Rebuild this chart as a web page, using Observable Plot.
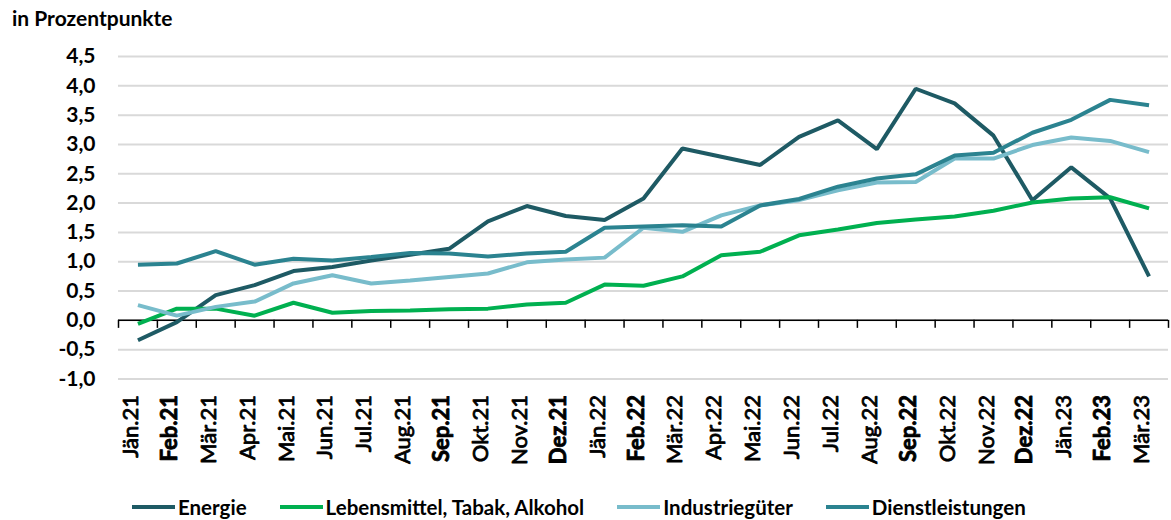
<!DOCTYPE html>
<html>
<head>
<meta charset="utf-8">
<script src="https://cdn.jsdelivr.net/npm/d3@7"></script>
<script src="https://cdn.jsdelivr.net/npm/@observablehq/plot@0.6"></script>
<style>
  html, body { margin: 0; padding: 0; background: #fff; }
  body { width: 1171px; height: 520px; overflow: hidden; font-family: Lato, "Open Sans", sans-serif; color: #000; }
  #title { height: 40px; box-sizing: border-box; padding: 7px 0 0 12px; font-size: 21px; line-height: 21px; font-weight: 700; }
  #legend { height: 30px; display: flex; align-items: center; padding-left: 132px; font-size: 20.5px; font-weight: 700; position: relative; top: 2px; }
  .item { display: flex; align-items: center; margin-right: 33px; }
  .sw { width: 43px; height: 4px; margin-right: 3px; }
</style>
</head>
<body>
<div id="title">in Prozentpunkte</div>
<div id="chart"></div>
<div id="legend"></div>
<script>
const months = ["Jän.21","Feb.21","Mär.21","Apr.21","Mai.21","Jun.21","Jul.21","Aug.21","Sep.21","Okt.21","Nov.21","Dez.21","Jän.22","Feb.22","Mär.22","Apr.22","Mai.22","Jun.22","Jul.22","Aug.22","Sep.22","Okt.22","Nov.22","Dez.22","Jän.23","Feb.23","Mär.23"];
const boldLabels = ["Feb.21","Sep.21","Dez.21","Feb.22","Sep.22","Dez.22","Feb.23"];

const seriesNames = ["Energie", "Lebensmittel, Tabak, Alkohol", "Industriegüter", "Dienstleistungen"];
const seriesColors = ["#1e5a64", "#00b050", "#78bccb", "#2b8390"];

const energie      = [-0.34, -0.03, 0.43, 0.60, 0.84, 0.91, 1.02, 1.12, 1.22, 1.69, 1.95, 1.78, 1.71, 2.08, 2.93, 2.79, 2.65, 3.13, 3.41, 2.92, 3.95, 3.70, 3.15, 2.05, 2.61, 2.08, 0.75];
const lebensmittel = [-0.06, 0.20, 0.20, 0.08, 0.30, 0.13, 0.16, 0.17, 0.19, 0.20, 0.27, 0.30, 0.61, 0.59, 0.75, 1.11, 1.17, 1.45, 1.55, 1.66, 1.72, 1.77, 1.87, 2.01, 2.08, 2.10, 1.91];
const industrie    = [0.26, 0.08, 0.23, 0.32, 0.63, 0.77, 0.63, 0.68, 0.74, 0.80, 0.99, 1.04, 1.07, 1.58, 1.51, 1.79, 1.96, 2.05, 2.22, 2.35, 2.36, 2.76, 2.76, 2.99, 3.12, 3.06, 2.87];
const dienst       = [0.95, 0.97, 1.18, 0.95, 1.05, 1.02, 1.08, 1.15, 1.14, 1.09, 1.14, 1.17, 1.58, 1.60, 1.62, 1.60, 1.96, 2.07, 2.28, 2.42, 2.49, 2.81, 2.86, 3.20, 3.42, 3.76, 3.67];

const yTicks = [-1.0, -0.5, 0.0, 0.5, 1.0, 1.5, 2.0, 2.5, 3.0, 3.5, 4.0, 4.5];

const allValues = [energie, lebensmittel, industrie, dienst];
const table = [];
allValues.forEach((vals, s) => vals.forEach((v, i) => table.push({series: seriesNames[s], i, value: v})));

const idx = months.map((m, i) => i);
const normalIdx = idx.filter(i => !boldLabels.includes(months[i]));
const boldIdx = idx.filter(i => boldLabels.includes(months[i]));
const boundaries = d3.range(months.length + 1).map(i => i - 0.5);
const fmt = d => d.toFixed(1).replace(".", ",");

const chart = Plot.plot({
  width: 1171,
  height: 450,
  marginTop: 16,
  marginLeft: 118,
  marginRight: 3,
  marginBottom: 111.5,
  style: {fontFamily: "Lato, 'Open Sans', sans-serif", color: "#000", background: "#fff", overflow: "visible"},
  x: {axis: null, domain: [-0.5, months.length - 0.5]},
  y: {domain: [yTicks[0], yTicks[yTicks.length - 1]], axis: null},
  color: {domain: seriesNames, range: seriesColors},
  marks: [
    Plot.gridY(yTicks, {stroke: "#d9d9d9", strokeOpacity: 1, strokeWidth: 2}),
    Plot.axisY(yTicks, {tickSize: 0, tickPadding: 23, tickFormat: fmt, fontSize: 21, fontWeight: 700, label: null}),
    Plot.ruleY([0], {stroke: "#000", strokeWidth: 1.5}),
    Plot.ruleX(boundaries, {x: d => d, y1: 0, y2: 0, insetBottom: -8, stroke: "#000", strokeWidth: 1.5}),
    Plot.line(table, {x: "i", y: "value", z: "series", stroke: "series", strokeWidth: 4, strokeLinejoin: "miter", strokeLinecap: "butt"}),
    Plot.text(normalIdx, {x: d => d, text: d => months[d], frameAnchor: "bottom", rotate: -90, textAnchor: "end", dy: 16, fontSize: 22, fontWeight: 400, fill: "#000", stroke: "#000", strokeWidth: 0.8}),
    Plot.text(boldIdx, {x: d => d, text: d => months[d], frameAnchor: "bottom", rotate: -90, textAnchor: "end", dy: 16, fontSize: 22, fontWeight: 700, fill: "#000", stroke: "#000", strokeWidth: 0.8})
  ]
});
document.getElementById("chart").appendChild(chart);

const legend = document.getElementById("legend");
seriesNames.forEach((name, k) => {
  const item = document.createElement("div");
  item.className = "item";
  const sw = document.createElement("span");
  sw.className = "sw";
  sw.style.background = seriesColors[k];
  const label = document.createElement("span");
  label.textContent = name;
  item.appendChild(sw);
  item.appendChild(label);
  legend.appendChild(item);
});
</script>
</body>
</html>
